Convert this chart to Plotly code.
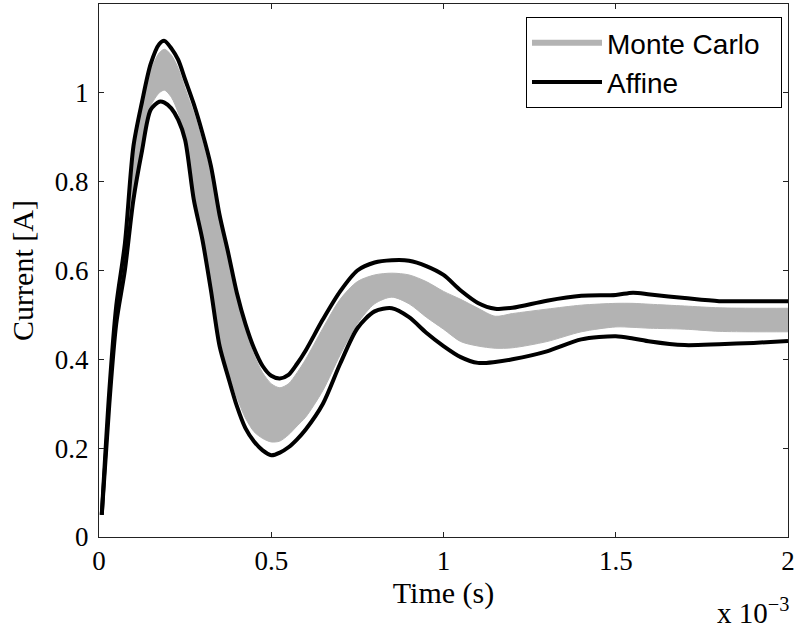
import plotly.graph_objects as go

# Time axis in milliseconds (axis shows "x 10^-3" seconds)
time_ms = [0.008, 0.03, 0.05, 0.075, 0.1, 0.125, 0.15, 0.175, 0.19, 0.21, 0.23, 0.25,
           0.275, 0.3, 0.325, 0.35, 0.375, 0.4, 0.425, 0.45, 0.475, 0.5, 0.525, 0.55,
           0.575, 0.6, 0.65, 0.7, 0.75, 0.8, 0.85, 0.9, 0.95, 1.0, 1.05, 1.1, 1.15,
           1.2, 1.3, 1.4, 1.5, 1.55, 1.6, 1.7, 1.8, 1.9, 2.0]

affine_upper = [0.05, 0.33, 0.52, 0.66, 0.88, 0.98, 1.065, 1.11, 1.117, 1.10, 1.074, 1.03,
                0.975, 0.91, 0.835, 0.725, 0.64, 0.55, 0.48, 0.425, 0.385, 0.363, 0.357, 0.365,
                0.39, 0.42, 0.49, 0.553, 0.60, 0.618, 0.623, 0.622, 0.61, 0.59, 0.555, 0.527, 0.514,
                0.516, 0.532, 0.543, 0.545, 0.55, 0.546, 0.538, 0.531, 0.531, 0.531]

affine_lower = [0.05, 0.30, 0.48, 0.60, 0.76, 0.87, 0.962, 0.98, 0.978, 0.965, 0.939, 0.894,
                0.76, 0.67, 0.555, 0.43, 0.36, 0.295, 0.245, 0.215, 0.195, 0.184, 0.19, 0.202,
                0.22, 0.242, 0.30, 0.39, 0.47, 0.508, 0.515, 0.495, 0.46, 0.43, 0.405, 0.392, 0.394,
                0.40, 0.418, 0.445, 0.452, 0.447, 0.44, 0.432, 0.434, 0.437, 0.441]

mc_upper = [0.05, 0.325, 0.51, 0.65, 0.87, 0.97, 1.05, 1.09, 1.098, 1.085, 1.055, 1.01,
            0.955, 0.89, 0.815, 0.71, 0.625, 0.535, 0.465, 0.41, 0.37, 0.345, 0.336, 0.345,
            0.37, 0.40, 0.47, 0.535, 0.575, 0.59, 0.594, 0.59, 0.575, 0.553, 0.535, 0.515, 0.497,
            0.503, 0.513, 0.522, 0.526, 0.526, 0.524, 0.52, 0.516, 0.515, 0.515]

mc_lower = [0.05, 0.305, 0.485, 0.61, 0.77, 0.88, 0.97, 1.0, 1.006, 0.99, 0.955, 0.905,
            0.775, 0.68, 0.57, 0.445, 0.375, 0.315, 0.268, 0.237, 0.222, 0.214, 0.216, 0.23,
            0.25, 0.27, 0.33, 0.41, 0.48, 0.525, 0.54, 0.525, 0.495, 0.468, 0.44, 0.43, 0.425,
            0.426, 0.44, 0.462, 0.473, 0.472, 0.470, 0.468, 0.463, 0.462, 0.462]

series_names = ["Monte Carlo", "Affine"]

x_ticks = [0, 0.5, 1, 1.5, 2]
x_tick_labels = ["0", "0.5", "1", "1.5", "2"]
y_ticks = [0, 0.2, 0.4, 0.6, 0.8, 1.0]
y_tick_labels = ["0", "0.2", "0.4", "0.6", "0.8", "1"]

GRAY = "#b3b3b3"
SERIF = "Liberation Serif, Times New Roman, serif"
SANS = "Liberation Sans, Arial, sans-serif"
PAD = "\u00a0\u00a0"  # right padding inside the legend box

L, R, T, B = 99, 7, 4, 91
W, H = 795, 628
PW, PH = W - L - R, H - T - B

fig = go.Figure()
fig.add_trace(go.Scatter(x=time_ms, y=mc_lower, mode="lines",
                         line=dict(color=GRAY, width=1, shape="spline", smoothing=0.8),
                         showlegend=False, hoverinfo="skip"))
fig.add_trace(go.Scatter(x=time_ms, y=mc_upper, mode="lines", fill="tonexty",
                         fillcolor=GRAY,
                         line=dict(color=GRAY, width=1, shape="spline", smoothing=0.8),
                         showlegend=False, hoverinfo="skip"))
fig.add_trace(go.Scatter(x=time_ms, y=affine_upper, mode="lines",
                         line=dict(color="black", width=4, shape="spline", smoothing=0.8),
                         showlegend=False))
fig.add_trace(go.Scatter(x=time_ms, y=affine_lower, mode="lines",
                         line=dict(color="black", width=4, shape="spline", smoothing=0.8),
                         showlegend=False))
# legend entries
fig.add_trace(go.Scatter(x=[None], y=[None], mode="lines", name=series_names[0] + PAD,
                         line=dict(color=GRAY, width=6)))
fig.add_trace(go.Scatter(x=[None], y=[None], mode="lines", name=series_names[1],
                         line=dict(color="black", width=4)))

axis_common = dict(showline=True, linecolor="#222", linewidth=1, mirror="ticks",
                   ticks="inside", ticklen=5, tickcolor="#222", showgrid=False,
                   zeroline=False, automargin=False, ticklabeloverflow="allow",
                   tickfont=dict(family=SERIF, size=27, color="black"))

fig.update_xaxes(range=[0, 2], tickvals=x_ticks, ticktext=x_tick_labels,
                 title=dict(text="Time (s)", font=dict(family=SERIF, size=30, color="black"),
                            standoff=4),
                 **axis_common)
fig.update_yaxes(range=[0, 1.2], tickvals=y_ticks, ticktext=y_tick_labels,
                 ticklabelstandoff=4,
                 title=dict(text="Current [A]", font=dict(family=SERIF, size=30, color="black"),
                            standoff=12),
                 **axis_common)

fig.add_annotation(x=(791 - L) / PW, y=-(631 - (H - B)) / PH, xref="paper", yref="paper",
                   text="x 10<sup>−3</sup>", showarrow=False, xanchor="right", yanchor="bottom",
                   font=dict(family=SERIF, size=29, color="black"))

fig.update_layout(
    width=W, height=H,
    margin=dict(l=L, r=R, t=T, b=B, autoexpand=False),
    plot_bgcolor="white", paper_bgcolor="white",
    legend=dict(x=(782 - L) / PW, y=((H - B) - 17) / PH, xanchor="right", yanchor="top",
                bordercolor="black", borderwidth=1, bgcolor="white",
                font=dict(family=SANS, size=28, color="black"),
                itemwidth=70, traceorder="normal"),
)

fig.write_html("out.html", config={"displayModeBar": False},
               post_script="document.body.style.margin='0';document.body.style.overflow='hidden';")
